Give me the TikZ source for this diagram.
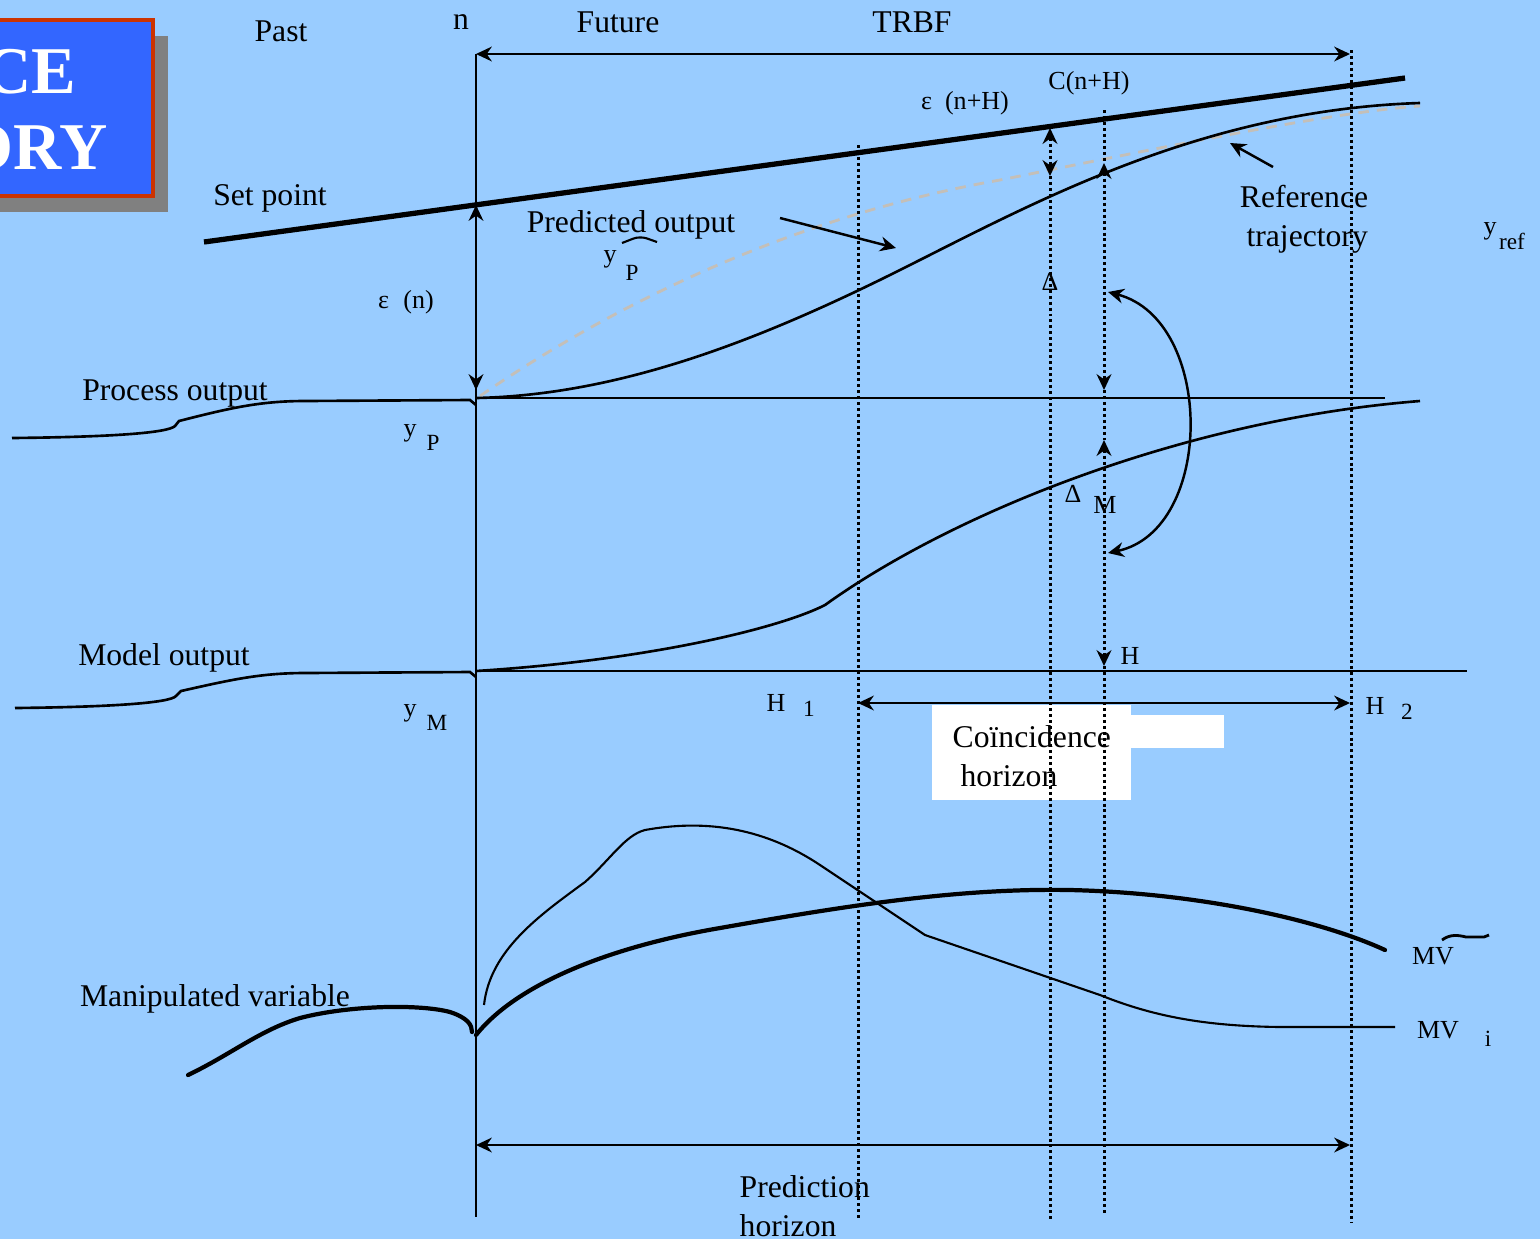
\documentclass[tikz,border=0pt]{standalone}
\usepackage{fontspec}
\setmainfont{Liberation Serif}
\usetikzlibrary{arrows.meta}
\definecolor{skyBack}{HTML}{99CCFF}
\definecolor{titleBlue}{HTML}{3366FF}
\definecolor{titleRed}{HTML}{CC3300}
\definecolor{shadowGray}{HTML}{808080}
\definecolor{refGray}{HTML}{C4BFB8}
\tikzset{
  span arrow/.style={{Stealth[length=4.5pt,width=4.2pt]}-{Stealth[length=4.5pt,width=4.2pt]},line width=0.6pt},
  pointer arrow/.style={-{Stealth[length=4.5pt,width=4.2pt]},line width=0.7pt},
  guide line/.style={line width=0.85pt,dash pattern=on 0.85pt off 0.85pt},
  axis line/.style={line width=0.6pt},
  thin curve/.style={line width=0.6pt},
  mid curve/.style={line width=0.75pt},
  thick curve/.style={line width=1.2pt},
  ref curve/.style={draw=refGray,line width=0.8pt,dash pattern=on 3pt off 2.3pt},
  big label/.style={inner sep=0pt,font=\fontsize{9}{11.2}\selectfont},
  small label/.style={inner sep=0pt,font=\fontsize{7.4}{8.5}\selectfont},
  sub label/.style={inner sep=0pt,font=\fontsize{6.6}{7.5}\selectfont},
  title label/.style={inner sep=0pt,text=white,font=\fontsize{19}{22}\selectfont\bfseries}
}

\begin{document}
\begin{tikzpicture}[x=0.01cm,y=-0.01cm]
    \fill[skyBack] (0,0) rectangle (1540,1239);
    \useasboundingbox (0,0) rectangle (1540,1239);
    \clip (0,0) rectangle (1540,1239);

    \fill[shadowGray] (-10,36) rectangle (168,212);
    \filldraw[fill=titleBlue,draw=titleRed,line width=1pt] (-10,20) rectangle (153,196);
    \node[title label,anchor=east] (titleA) at (77,72) {CE};
    \node[title label,anchor=east] (titleB) at (108,148) {ORY};

    \fill[white] (932,705) rectangle (1131,800);
    \fill[white] (1131,715) rectangle (1224,748);

    \coordinate (nTop) at (476,54);
    \coordinate (nBot) at (476,1217);
    \coordinate (spA) at (204,242);
    \coordinate (spB) at (1405,78);
    \coordinate (spN) at (476,205);
    \coordinate (poN) at (476,390);
    \coordinate (poStart) at (476,398);
    \coordinate (poEnd) at (1385,398);
    \coordinate (moStart) at (476,671);
    \coordinate (moEnd) at (1467,671);
    \coordinate (hTwoTop) at (1350,54);
    \coordinate (hOne) at (858,703);
    \coordinate (hTwo) at (1350,703);
    \coordinate (phA) at (476,1145);
    \coordinate (phB) at (1350,1145);
    \coordinate (epsTop) at (1050,128);
    \coordinate (epsBot) at (1050,176);
    \coordinate (dltTop) at (1104,163);
    \coordinate (dltBot) at (1104,390);
    \coordinate (dltMTop) at (1104,440);
    \coordinate (dltMBot) at (1104,666);

    \draw[thick curve,line width=1.5pt] (spA) -- (spB);
    \draw[ref curve] (480,396) .. controls (620,300) and (800,215) .. (1000,180)
      .. controls (1150,150) and (1330,112) .. (1420,106);
    \draw[mid curve] (poStart) .. controls (620,395) and (760,340) .. (900,270)
      .. controls (1030,205) and (1200,110) .. (1420,103);
    \draw[axis line] (poStart) -- (poEnd);
    \draw[mid curve] (12,438) .. controls (110,437) and (168,433) .. (175,426)
      -- (179,421) .. controls (230,408) and (260,401) .. (305,401) -- (470,400) -- (476,405);
    \draw[mid curve] (moStart) .. controls (650,660) and (780,628) .. (825,605)
      .. controls (950,515) and (1180,420) .. (1420,401);
    \draw[axis line] (moStart) -- (moEnd);
    \draw[mid curve] (15,708) .. controls (110,707) and (170,703) .. (176,696)
      -- (181,691) .. controls (230,680) and (260,673) .. (305,673) -- (470,672) -- (476,677);

    \draw[thick curve,line cap=round] (188,1075) .. controls (230,1055) and (260,1030) .. (300,1018)
      .. controls (350,1005) and (420,1004) .. (450,1012) .. controls (468,1018) and (472,1025) .. (472,1032);
    \draw[thick curve,line cap=round] (476,1035) .. controls (520,980) and (620,945) .. (720,928)
      .. controls (850,905) and (960,888) .. (1070,890) .. controls (1200,893) and (1320,920) .. (1385,950);
    \draw[thin curve] (484,1005) .. controls (490,950) and (540,915) .. (585,882)
      .. controls (610,860) and (625,835) .. (645,830) .. controls (700,820) and (760,825) .. (820,865)
      -- (925,935) -- (1100,995) .. controls (1150,1015) and (1200,1026) .. (1280,1027) -- (1395,1027);

    \draw[axis line] (nTop) -- (nBot);
    \draw[guide line] (858,145) -- (858,1220);
    \draw[guide line] (1050,125) -- (epsTop);
    \draw[guide line] (epsBot) -- (1050,1220);
    \draw[guide line] (1104,110) -- (dltTop);
    \draw[guide line] (dltBot) -- (dltMTop);
    \draw[guide line] (dltMBot) -- (1104,1215);
    \draw[guide line] (1351,50) -- (1351,1222);

    \draw[span arrow] (nTop) -- (hTwoTop);
    \draw[span arrow] (spN) -- (poN);
    \draw[span arrow] (hOne) -- (hTwo);
    \draw[span arrow] (phA) -- (phB);
    \draw[span arrow,guide line] (epsTop) -- (epsBot);
    \draw[span arrow,guide line] (dltTop) -- (dltBot);
    \draw[span arrow,guide line] (dltMTop) -- (dltMBot);
    \draw[span arrow,line width=0.7pt] (1108,292) .. controls (1215,320) and (1215,530) .. (1108,553);
    \draw[pointer arrow] (780,218) -- (896,248);
    \draw[pointer arrow] (1273,167) -- (1230,143);

    \node[big label] (past) at (281,31) {Past};
    \node[big label] (nLbl) at (461,22) {n};
    \node[big label] (future) at (618,22) {Future};
    \node[big label] (trbf) at (912,22) {TRBF};
    \node[big label] (setPt) at (270,198) {Set point};
    \node[big label] (predOut) at (631,225) {Predicted output};
    \node[big label] (procOut) at (175,393) {Process output};
    \node[big label] (modOut) at (164,658) {Model output};
    \node[big label] (manVar) at (215,999) {Manipulated variable};
    \node[big label,align=center] (refTraj) at (1304,219) {Reference\\\hspace*{0.2em}trajectory};
    \node[big label,align=left,anchor=west] (coinc) at (952,756) {Coïncidence\\\hspace*{0.25em}horizon};
    \node[big label,align=left,anchor=west] (predHor) at (739,1206) {Prediction\\horizon};

    \node[small label] (epsN) at (406,302) {ε\hspace{0.55em}(n)};
    \node[small label] (epsNH) at (965,103) {ε\hspace{0.5em}(n+H)};
    \node[small label] (cNH) at (1089,83) {C(n+H)};
    \node[small label] (dltA) at (1050,282) {Δ};
    \node[small label] (dltB) at (1073,494) {Δ};
    \node[small label] (dltM) at (1105,505) {M};
    \node[small label] (hLbl) at (1130,656) {H};
    \node[small label] (hOneLbl) at (776,703) {H};
    \node[sub label] (hOneSub) at (809,709) {1};
    \node[small label] (hTwoLbl) at (1375,706) {H};
    \node[sub label] (hTwoSub) at (1407,712) {2};
    \node[small label] (mvTil) at (1433,956) {MV};
    \node[small label] (mvI) at (1438,1030) {MV};
    \node[sub label] (mvISub) at (1488,1039) {i};
    \node[small label] (yP) at (410,433) {y};
    \node[sub label] (yPSub) at (433,443) {P};
    \node[small label] (yM) at (410,713) {y};
    \node[sub label] (yMSub) at (437,723) {M};
    \node[small label] (yHat) at (610,259) {y};
    \node[sub label] (yHatSub) at (632,273) {P};
    \node[small label] (yRef) at (1490,231) {y};
    \node[sub label] (yRefSub) at (1512,241) {ref};

    \draw[line width=0.6pt,rounded corners=2pt] (622,243) -- (640,236) -- (657,242);
    \draw[line width=0.8pt] (1442,940) .. controls (1450,934) and (1458,935) .. (1466,937)
      -- (1484,937) -- (1489,935);
\end{tikzpicture}
\end{document}
